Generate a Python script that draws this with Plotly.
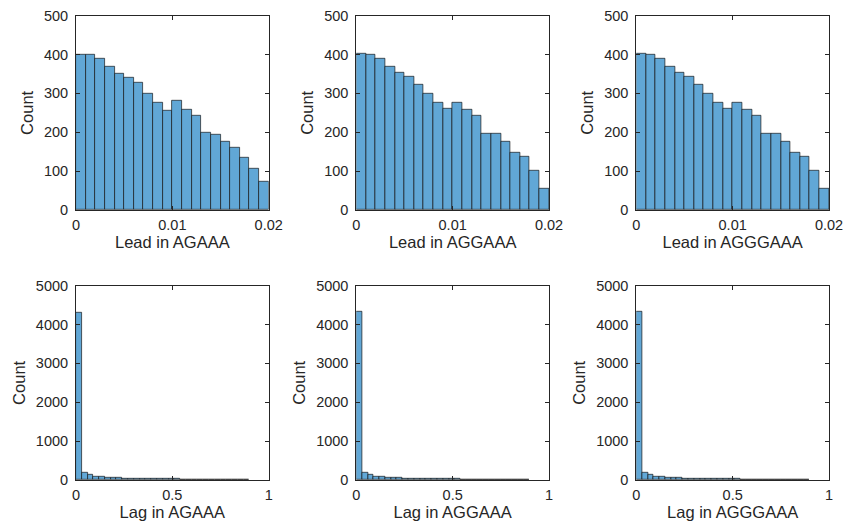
import plotly.graph_objects as go

# ---- data ----
lead_edges = [i * 0.001 for i in range(21)]
lead_agaaa = [400, 400, 390, 369, 352, 340, 327, 300, 275, 255, 280, 257, 242, 198, 193, 177, 160, 134, 106, 73]
lead_aggaaa = [401, 399, 389, 368, 353, 344, 322, 299, 277, 260, 277, 258, 242, 197, 197, 176, 148, 137, 102, 54]
lead_agggaaa = [401, 399, 389, 368, 353, 344, 322, 299, 277, 260, 277, 258, 242, 197, 197, 176, 148, 137, 102, 54]

lag_edges = [i * 0.03 for i in range(31)]
lag_agaaa = [4310, 180, 130, 90, 75, 65, 60, 55, 40, 38, 35, 33, 30, 28, 27, 25, 22, 21, 20, 18, 18, 17, 15, 14, 13, 12, 11, 10, 9, 8]
lag_aggaaa = [4320, 185, 130, 90, 75, 65, 60, 55, 40, 38, 35, 33, 30, 28, 27, 25, 22, 21, 20, 18, 18, 17, 15, 14, 13, 12, 11, 10, 9, 8]
lag_agggaaa = [4320, 185, 130, 90, 75, 65, 60, 55, 40, 38, 35, 33, 30, 28, 27, 25, 22, 21, 20, 18, 18, 17, 15, 14, 13, 12, 11, 10, 9, 8]

lead_labels = ["Lead in AGAAA", "Lead in AGGAAA", "Lead in AGGGAAA"]
lag_labels = ["Lag in AGAAA", "Lag in AGGAAA", "Lag in AGGGAAA"]
lead_ticks = [0, 0.01, 0.02]
lead_ticktext = ["0", "0.01", "0.02"]
lag_ticks = [0, 0.5, 1]
lag_ticktext = ["0", "0.5", "1"]

FACE = "rgb(97,167,214)"
EDGE = "rgba(20,20,20,0.85)"
AXC = "#262626"
FONT = "Liberation Sans, Arial, sans-serif"

W, H = 844, 527
xdoms = [(76, 268.7), (356.3, 549), (636.3, 829)]
ydoms = [(15.7, 210), (285.7, 480)]

fig = go.Figure()

def centers(edges):
    return [(edges[i] + edges[i + 1]) / 2 for i in range(len(edges) - 1)]

def widths(edges):
    return [edges[i + 1] - edges[i] for i in range(len(edges) - 1)]

panels = [
    (lead_edges, lead_agaaa, lead_labels[0], 0, 0),
    (lead_edges, lead_aggaaa, lead_labels[1], 0, 1),
    (lead_edges, lead_agggaaa, lead_labels[2], 0, 2),
    (lag_edges, lag_agaaa, lag_labels[0], 1, 0),
    (lag_edges, lag_aggaaa, lag_labels[1], 1, 1),
    (lag_edges, lag_agggaaa, lag_labels[2], 1, 2),
]

for k, (edges, counts, label, r, c) in enumerate(panels):
    n = k + 1
    xa = "x" if n == 1 else f"x{n}"
    ya = "y" if n == 1 else f"y{n}"
    fig.add_trace(go.Bar(
        x=centers(edges), y=counts, width=widths(edges),
        marker=dict(color=FACE, line=dict(color=EDGE, width=0.8)),
        xaxis=xa, yaxis=ya, showlegend=False, hoverinfo="skip",
    ))
    x0, x1 = xdoms[c]
    y0, y1 = ydoms[r]
    common = dict(showline=True, mirror="ticks", linecolor=AXC, linewidth=1,
                  ticks="inside", ticklen=4, tickcolor=AXC, tickwidth=1,
                  showgrid=False, zeroline=False, automargin=False,
                  tickfont=dict(family=FONT, size=14.5, color=AXC))
    xkey = "xaxis" if n == 1 else f"xaxis{n}"
    ykey = "yaxis" if n == 1 else f"yaxis{n}"
    if r == 0:
        xr = [0, 0.02]; tv = lead_ticks; tt = lead_ticktext
        yr = [0, 500]; ydt = 100
    else:
        xr = [0, 1]; tv = lag_ticks; tt = lag_ticktext
        yr = [0, 5000]; ydt = 1000
    fig.update_layout(**{
        xkey: dict(domain=[x0 / W, x1 / W], range=xr, tickvals=tv, ticktext=tt,
                   anchor=ya, ticklabelstandoff=2,
                   title=dict(text=label, standoff=3,
                              font=dict(family=FONT, size=16.5, color=AXC)),
                   **common),
        ykey: dict(domain=[1 - y1 / H, 1 - y0 / H], range=yr, dtick=ydt,
                   anchor=xa, ticklabelstandoff=4,
                   title=dict(text="Count", standoff=6,
                              font=dict(family=FONT, size=16.5, color=AXC)),
                   **common),
    })

fig.update_layout(
    width=W, height=H, margin=dict(l=0, r=0, t=0, b=0),
    paper_bgcolor="white", plot_bgcolor="white", bargap=0,
    font=dict(family=FONT, color=AXC),
)

fig.write_html("out.html")
